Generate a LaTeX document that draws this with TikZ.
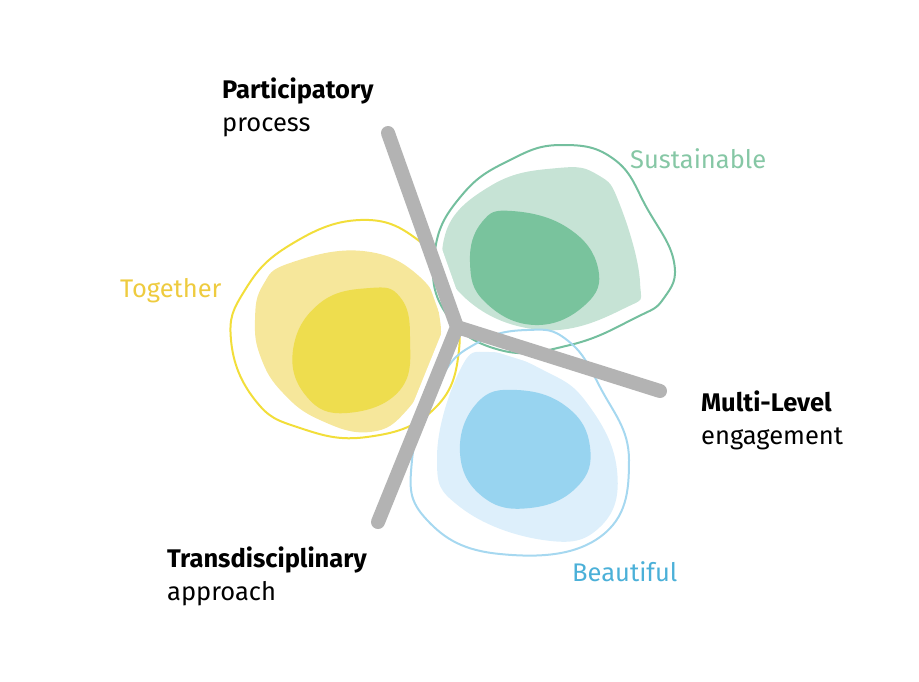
\documentclass[tikz,border=0pt]{standalone}
\usepackage{fontspec}
\setmainfont{Fira Sans}
\definecolor{ylo}{HTML}{F2DE3A}
\definecolor{ylight}{HTML}{F6E79B}
\definecolor{ydark}{HTML}{EEDD4E}
\definecolor{ytext}{HTML}{EECB3F}
\definecolor{glo}{HTML}{74BF9E}
\definecolor{glight}{HTML}{C6E3D5}
\definecolor{gdark}{HTML}{79C39D}
\definecolor{gtext}{HTML}{86C7A5}
\definecolor{blo}{HTML}{A6D8F0}
\definecolor{blight}{HTML}{DDEFFB}
\definecolor{bdark}{HTML}{98D4F0}
\definecolor{btext}{HTML}{4BB0D8}
\definecolor{bar}{HTML}{B3B3B3}
\begin{document}
\begin{tikzpicture}[x=1pt,y=-1pt,
  lbl/.style={anchor=base west,inner sep=0pt,font=\fontsize{25.5}{33}\selectfont},
  blbl/.style={lbl,font=\fontsize{25.5}{33}\selectfont\bfseries},
  blob/.style={smooth cycle,tension=0.75},
  halo/.style={line width=24pt,white,line cap=round},
  barline/.style={line width=14pt,bar,line cap=round,line join=round},
  outl/.style={line width=2pt}]
\useasboundingbox (0,0) rectangle (919,681);
% fills
\fill[ylight] plot[blob] coordinates {(290,263) (363,251) (420,277) (440,320) (433,362) (407,410) (370,432) (320,420) (283,393) (261,358) (255,320) (263,285)};
\fill[ydark] plot[blob] coordinates {(370,288) (400,297) (410,337) (400,390) (347,413) (307,397) (293,350) (320,303)};
\fill[glight] plot[blob] coordinates {(558,168) (598,175) (620,205) (640,282) (625,308) (542,330) (462,295) (445,235) (492,185)};
\fill[gdark] plot[blob] coordinates {(512,211) (568,228) (598,268) (585,305) (535,325) (485,302) (470,262) (482,222)};
\fill[blight] plot[blob] coordinates {(490,352) (543,370) (587,403) (617,470) (600,527) (543,540) (460,507) (437,457) (460,370)};
\fill[bdark] plot[blob] coordinates {(517,390) (567,407) (590,447) (577,487) (530,508) (483,497) (460,453) (477,403)};
% bar halo
\coordinate (c) at (457,327);
\coordinate (ptop) at (388,133);
\coordinate (pright) at (660,391);
\coordinate (pbot) at (378,522);
\draw[halo] (ptop) -- (c) -- (pright) (c) -- (pbot);
% outlines
\draw[outl,ylo] plot[blob] coordinates {(360,220) (418,240) (447,285) (459,350) (433,410) (367,437) (300,428) (255,400) (231,340) (245,290) (290,245)};
\draw[outl,glo] plot[blob] coordinates {(562,145) (615,160) (648,210) (674,262) (664,298) (635,318) (570,345) (500,350) (445,312) (435,250) (462,195) (510,160)};
\draw[outl,blo] plot[blob] coordinates {(527,330) (567,340) (600,387) (629,460) (600,537) (500,554) (427,520) (412,460) (440,380) (477,343)};
% bars
\draw[barline] (ptop) -- (c) -- (pright) (c) -- (pbot);
% labels
\node[blbl] (p1) at (222,98) {Participatory};
\node[lbl] (p2) at (222,131) {process};
\node[lbl,text=gtext] (s) at (630,168) {Sustainable};
\node[lbl,text=ytext] (t) at (120,297) {Together};
\node[blbl] (m1) at (701,411) {Multi-Level};
\node[lbl] (m2) at (701,444) {engagement};
\node[blbl] (d1) at (167,567) {Transdisciplinary};
\node[lbl] (d2) at (167,600) {approach};
\node[lbl,text=btext] (b) at (572,581) {Beautiful};
\end{tikzpicture}
\end{document}
